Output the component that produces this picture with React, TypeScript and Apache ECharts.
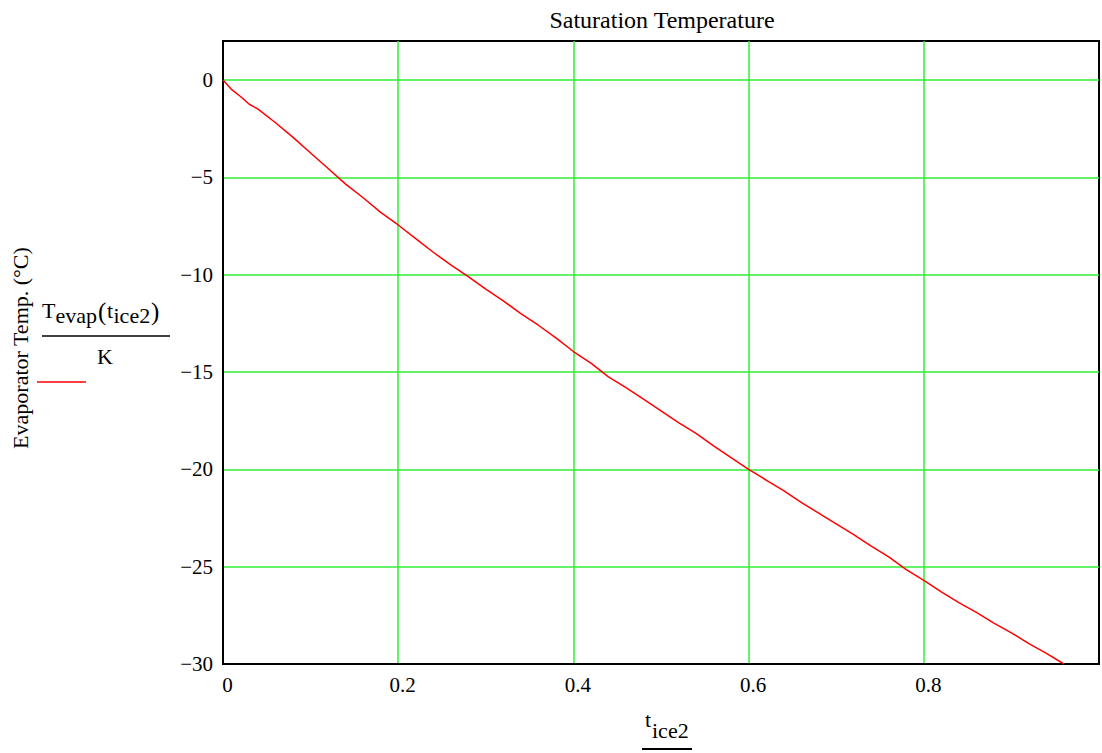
import React, { useEffect, useRef } from "react";
import * as echarts from "echarts";

const titleText = "Saturation Temperature";
const yAxisTitle = "Evaporator Temp. (°C)";

const tIce2 = [
  0, 0.01, 0.02, 0.03, 0.04, 0.06, 0.08, 0.1, 0.12, 0.14, 0.16, 0.18, 0.2, 0.22, 0.24, 0.26,
  0.28, 0.3, 0.32, 0.34, 0.36, 0.38, 0.4, 0.42, 0.44, 0.46, 0.48, 0.5, 0.52, 0.54, 0.56, 0.58,
  0.6, 0.62, 0.64, 0.66, 0.68, 0.7, 0.72, 0.74, 0.76, 0.78, 0.8, 0.82, 0.84, 0.86, 0.88, 0.9,
  0.92, 0.94, 0.96,
];
const tEvap = [
  0, -0.5, -0.85, -1.25, -1.5, -2.2, -2.95, -3.75, -4.55, -5.35, -6.05, -6.8, -7.45, -8.15,
  -8.85, -9.5, -10.1, -10.75, -11.35, -12.0, -12.6, -13.25, -13.95, -14.55, -15.25, -15.8,
  -16.4, -17.0, -17.6, -18.15, -18.8, -19.4, -20.0, -20.55, -21.1, -21.7, -22.25, -22.8,
  -23.35, -23.95, -24.5, -25.15, -25.7, -26.3, -26.85, -27.35, -27.9, -28.4, -28.95, -29.45,
  -30.0,
];

const FONT = "'Liberation Serif', 'Times New Roman', serif";

export default function App() {
  const ref = useRef<HTMLDivElement>(null);
  useEffect(() => {
    if (!ref.current) return;
    const chart = echarts.init(ref.current, undefined, { renderer: "svg" });
    const data = tIce2.map((t, i) => [t, tEvap[i]]);
    const txt = (x: number, y: number, text: string, size: number, align = "left") => ({
      type: "text",
      x,
      y,
      style: {
        text,
        font: `${size}px ${FONT}`,
        fill: "#000",
        textAlign: align,
        textVerticalAlign: "middle",
      },
    });
    chart.setOption({
      animation: false,
      backgroundColor: "#fff",
      grid: {
        left: 223,
        right: 0,
        top: 41,
        bottom: 89,
        show: true,
        borderColor: "#000",
        borderWidth: 2,
        backgroundColor: "transparent",
      },
      xAxis: {
        type: "value",
        min: 0,
        max: 1,
        interval: 0.2,
        axisLine: { show: true, onZero: false, lineStyle: { color: "#000", width: 2 } },
        axisTick: { show: false },
        axisLabel: {
          color: "#000",
          fontFamily: FONT,
          fontSize: 21,
          margin: 10,
          padding: [0, 0, 0, 9],
          formatter: (v: number) => (v > 0.95 ? "" : String(Math.round(v * 10) / 10)),
        },
        splitLine: {
          show: true,
          showMinLine: false,
          showMaxLine: false,
          lineStyle: { color: "#33ee33", width: 1.5 },
        },
      },
      yAxis: {
        type: "value",
        min: -30,
        max: 2,
        interval: 5,
        axisLine: { show: true, onZero: false, lineStyle: { color: "#000", width: 2 } },
        axisTick: { show: false },
        axisLabel: {
          color: "#000",
          fontFamily: FONT,
          fontSize: 21,
          margin: 10,
          formatter: (v: number) => (v > 1 ? "" : v < 0 ? "\u2212" + Math.abs(v) : String(v)),
        },
        splitLine: {
          show: true,
          showMinLine: false,
          showMaxLine: false,
          lineStyle: { color: "#33ee33", width: 1.5 },
        },
      },
      series: [
        {
          type: "line",
          data,
          showSymbol: false,
          smooth: false,
          clip: true,
          lineStyle: { color: "#ff0000", width: 1.5 },
          itemStyle: { color: "#ff0000" },
        },
      ],
      graphic: [
        txt(662, 20, titleText, 24, "center"),
        {
          type: "text",
          x: 20,
          y: 348,
          rotation: Math.PI / 2,
          style: {
            text: yAxisTitle,
            font: `22px ${FONT}`,
            fill: "#000",
            textAlign: "center",
            textVerticalAlign: "middle",
          },
        },
        // legend fraction
        txt(42, 310.5, "T", 22),
        txt(55.5, 315.5, "evap", 22),
        txt(98, 311, "(", 25),
        txt(107, 310.5, "t", 22),
        txt(113.5, 315.5, "ice2", 22),
        txt(151, 311, ")", 25),
        {
          type: "line",
          shape: { x1: 42, y1: 336, x2: 170, y2: 336 },
          style: { stroke: "#000", lineWidth: 1.5 },
        },
        txt(105, 356.5, "K", 22, "center"),
        {
          type: "line",
          shape: { x1: 37, y1: 382, x2: 86, y2: 382 },
          style: { stroke: "#ff0000", lineWidth: 1.5 },
        },
        // x axis name
        txt(645, 719.5, "t", 22),
        txt(652, 730.5, "ice2", 22),
        {
          type: "line",
          shape: { x1: 642, y1: 749, x2: 692, y2: 749 },
          style: { stroke: "#000", lineWidth: 2 },
        },
      ],
    });
    return () => chart.dispose();
  }, []);
  return (
    <div
      ref={ref}
      style={{ position: "absolute", left: 0, top: 0, width: 1102, height: 753 }}
    />
  );
}
